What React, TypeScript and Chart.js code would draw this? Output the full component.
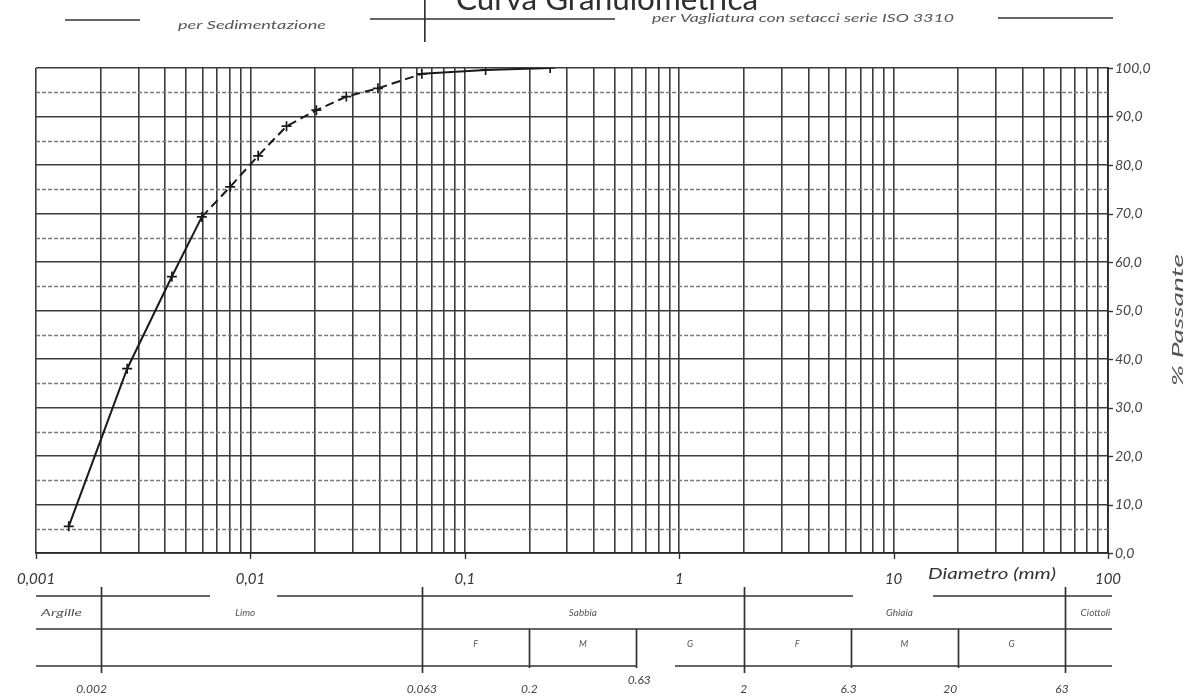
import React, { useEffect, useRef } from 'react';
import { Chart, registerables } from 'chart.js';

Chart.register(...registerables);

// ---- data ----
const diameterMm = [0.00142, 0.00266, 0.0043, 0.00593, 0.00804, 0.01086, 0.01473, 0.0203, 0.028, 0.0393, 0.063, 0.125, 0.25];
const percentPassing = [5.5, 38.0, 57.0, 69.3, 75.5, 81.9, 88.0, 91.3, 94.1, 95.8, 98.8, 99.6, 100.0];
const decadeValues = [0.001, 0.01, 0.1, 1, 10, 100];
const decadeLabels = ['0,001', '0,01', '0,1', '1', '10', '100'];
const halfGridPercent = [5, 15, 25, 35, 45, 55, 65, 75, 85, 95];
const soilClasses = ['Argille', 'Limo', 'Sabbia', 'Ghiaia', 'Ciottoli'];
const soilClassBounds = [0.001, 0.002, 0.063, 2, 63, 100];
const subClasses = ['F', 'M', 'G', 'F', 'M', 'G'];
const subClassBounds = [0.063, 0.2, 0.63, 2, 6.3, 20, 63];
const boundaryValues = [0.002, 0.063, 0.2, 0.63, 2, 6.3, 20, 63];
const boundaryLabels = ['0.002', '0.063', '0.2', '0.63', '2', '6.3', '20', '63'];
const titleText = 'Curva Granulometrica';
const sedimentText = 'per Sedimentazione';
const sieveText = 'per Vagliatura con setacci serie ISO 3310';
const xTitle = 'Diametro (mm)';
const yTitle = '% Passante';

const FONT = 'Lato, "Open Sans", sans-serif';

function txt(ctx: CanvasRenderingContext2D, s: string, x: number, y: number, font: string, color: string,
  align: CanvasTextAlign = 'center', w?: number, rot = 0) {
  ctx.save();
  ctx.font = font;
  ctx.fillStyle = color;
  ctx.textBaseline = 'middle';
  ctx.textAlign = align;
  ctx.translate(x, y);
  if (rot) ctx.rotate(rot);
  if (w) {
    const m = ctx.measureText(s).width;
    ctx.scale(w / m, 1);
  }
  ctx.fillText(s, 0, 0);
  ctx.restore();
}

function hline(ctx: CanvasRenderingContext2D, x1: number, x2: number, y: number) {
  ctx.beginPath();
  ctx.moveTo(x1, y);
  ctx.lineTo(x2, y);
  ctx.stroke();
}
function vline(ctx: CanvasRenderingContext2D, x: number, y1: number, y2: number) {
  ctx.beginPath();
  ctx.moveTo(x, y1);
  ctx.lineTo(x, y2);
  ctx.stroke();
}

const decorPlugin = {
  id: 'granuloDecor',
  beforeDatasetsDraw(chart: any) {
    const { ctx, chartArea, scales } = chart;
    const y = scales.y;
    ctx.save();
    ctx.strokeStyle = '#7a7a7a';
    ctx.lineWidth = 1.3;
    ctx.setLineDash([4, 2]);
    for (const v of halfGridPercent) {
      const py = Math.round(y.getPixelForValue(v)) + 0.5;
      hline(ctx, chartArea.left, chartArea.right, py);
    }
    ctx.restore();
  },
  afterDraw(chart: any) {
    const { ctx, chartArea, scales } = chart;
    const x = scales.x;
    const y = scales.y;
    const L = chartArea.left, R = chartArea.right, B = chartArea.bottom;
    ctx.save();

    // small tick marks
    ctx.strokeStyle = '#333';
    ctx.lineWidth = 1.4;
    for (const d of decadeValues) vline(ctx, Math.round(x.getPixelForValue(d)) + 0.5, B, B + 6);
    for (let v = 0; v <= 100; v += 10) hline(ctx, R, R + 5, Math.round(y.getPixelForValue(v)) + 0.5);

    // title (cut at the top)
    txt(ctx, titleText, 607, 0, '30px ' + FONT, '#2e2e2e', 'center', 302);

    // header
    const x063 = x.getPixelForValue(0.063);
    ctx.strokeStyle = '#333';
    ctx.lineWidth = 1.7;
    hline(ctx, 65, 140, 20);
    hline(ctx, 370, 615, 19);
    hline(ctx, 998, 1113, 18);
    vline(ctx, x063 + 3, 0, 42);
    txt(ctx, sedimentText, 178, 25, 'italic 12px ' + FONT, '#555', 'left', 148);
    txt(ctx, sieveText, 652, 18, 'italic 12px ' + FONT, '#555', 'left', 302);

    // axis titles
    txt(ctx, xTitle, 928, 574, 'italic 16px ' + FONT, '#333', 'left', 128);
    txt(ctx, yTitle, 1178, 320, 'italic 16px ' + FONT, '#555', 'center', 132, -Math.PI / 2);

    // classification table
    const t0 = B + 43, t1 = B + 76, t2 = B + 113;
    const tr = R + 4;
    ctx.strokeStyle = '#333';
    ctx.lineWidth = 1.7;
    hline(ctx, L, 210, t0);
    hline(ctx, 277, 853, t0);
    hline(ctx, 933, tr, t0);
    hline(ctx, L, tr, t1);
    const x063b = x.getPixelForValue(0.63);
    hline(ctx, L, x063b, t2);
    hline(ctx, 675, tr, t2);
    for (let i = 1; i < soilClassBounds.length - 1; i++) {
      const px = Math.round(x.getPixelForValue(soilClassBounds[i])) + 0.5;
      vline(ctx, px, t0 - 9, t2 + 7);
    }
    for (let i = 1; i < subClassBounds.length - 1; i++) {
      if (soilClassBounds.indexOf(subClassBounds[i]) >= 0) continue;
      const px = Math.round(x.getPixelForValue(subClassBounds[i])) + 0.5;
      vline(ctx, px, t1, t2 + 2);
    }
    const rowFont = 'italic 10px ' + FONT;
    const rowOffsets = [0, -16, 0, -5, 9];
    for (let i = 0; i < soilClasses.length; i++) {
      const a = x.getPixelForValue(soilClassBounds[i]);
      const b = x.getPixelForValue(soilClassBounds[i + 1]);
      if (i === 0) txt(ctx, soilClasses[i], a + 5, (t0 + t1) / 2, rowFont, '#555', 'left', 41);
      else txt(ctx, soilClasses[i], (a + b) / 2 + rowOffsets[i], (t0 + t1) / 2, rowFont, '#555', 'center');
    }
    for (let i = 0; i < subClasses.length; i++) {
      const a = x.getPixelForValue(subClassBounds[i]);
      const b = x.getPixelForValue(subClassBounds[i + 1]);
      txt(ctx, subClasses[i], (a + b) / 2, (t1 + t2) / 2 - 3, 'italic 9px ' + FONT, '#555', 'center');
    }
    const blOffsets = [-9, 0, 0, 3, 0, -2, -8, -3];
    for (let i = 0; i < boundaryValues.length; i++) {
      const px = x.getPixelForValue(boundaryValues[i]) + blOffsets[i];
      const py = boundaryLabels[i] === '0.63' ? B + 127 : B + 136;
      txt(ctx, boundaryLabels[i], px, py, 'italic 12px ' + FONT, '#444', 'center');
    }
    ctx.restore();
  },
};

export default function App() {
  const ref = useRef<HTMLCanvasElement | null>(null);
  useEffect(() => {
    if (!ref.current) return;
    const points = diameterMm.map((d, i) => ({ x: d, y: percentPassing[i] }));
    const chart = new Chart(ref.current, {
      type: 'line',
      data: {
        datasets: [
          {
            data: points,
            borderColor: '#1a1a1a',
            borderWidth: 2,
            pointStyle: 'cross',
            pointRadius: 5,
            pointBorderWidth: 1.7,
            pointBorderColor: '#1a1a1a',
            pointBackgroundColor: '#1a1a1a',
            fill: false,
            tension: 0,
            segment: {
              borderDash: (c: any) => (c.p0DataIndex >= 3 && c.p0DataIndex < 10 ? [9, 5] : undefined),
            },
          } as any,
        ],
      },
      options: {
        animation: false,
        responsive: true,
        maintainAspectRatio: false,
        layout: { padding: { left: 32, top: 68, right: 0, bottom: 0 } },
        plugins: { legend: { display: false }, tooltip: { enabled: false }, title: { display: false } },
        scales: {
          x: {
            type: 'logarithmic',
            min: 0.001,
            max: 100,
            position: 'bottom',
            afterBuildTicks: (scale: any) => {
              const t: any[] = [];
              for (let k = 0; k < decadeValues.length - 1; k++) {
                for (let m = 1; m <= 9; m++) t.push({ value: m * decadeValues[k], major: m === 1 });
              }
              t.push({ value: 100, major: true });
              scale.ticks = t;
            },
            afterFit: (scale: any) => {
              scale.height = 144;
            },
            grid: { color: '#3c3c3c', lineWidth: 1.6, drawTicks: false },
            border: { color: '#2a2a2a', width: 1.8 },
            ticks: {
              autoSkip: false,
              maxRotation: 0,
              padding: 17,
              color: '#333',
              font: { family: FONT, style: 'italic', size: 15 },
              callback: (v: any) => {
                const lg = Math.log10(Number(v));
                const r = Math.round(lg);
                if (Math.abs(lg - r) < 1e-6) return decadeLabels[r + 3] ?? '';
                return '';
              },
            },
          },
          y: {
            type: 'linear',
            position: 'right',
            min: 0,
            max: 100,
            afterFit: (scale: any) => {
              scale.width = 83;
            },
            grid: { color: '#3c3c3c', lineWidth: 1.6, drawTicks: false },
            border: { color: '#2a2a2a', width: 1.8 },
            ticks: {
              stepSize: 10,
              padding: 7,
              color: '#444',
              font: { family: FONT, style: 'italic', size: 14 },
              callback: (v: any) => Number(v).toFixed(1).replace('.', ','),
            },
          },
        },
      },
      plugins: [decorPlugin],
    } as any);
    return () => chart.destroy();
  }, []);
  return (
    <div style={{ position: 'absolute', left: 0, top: 0, width: 1191, height: 697, background: '#fff' }}>
      <canvas ref={ref} />
    </div>
  );
}
